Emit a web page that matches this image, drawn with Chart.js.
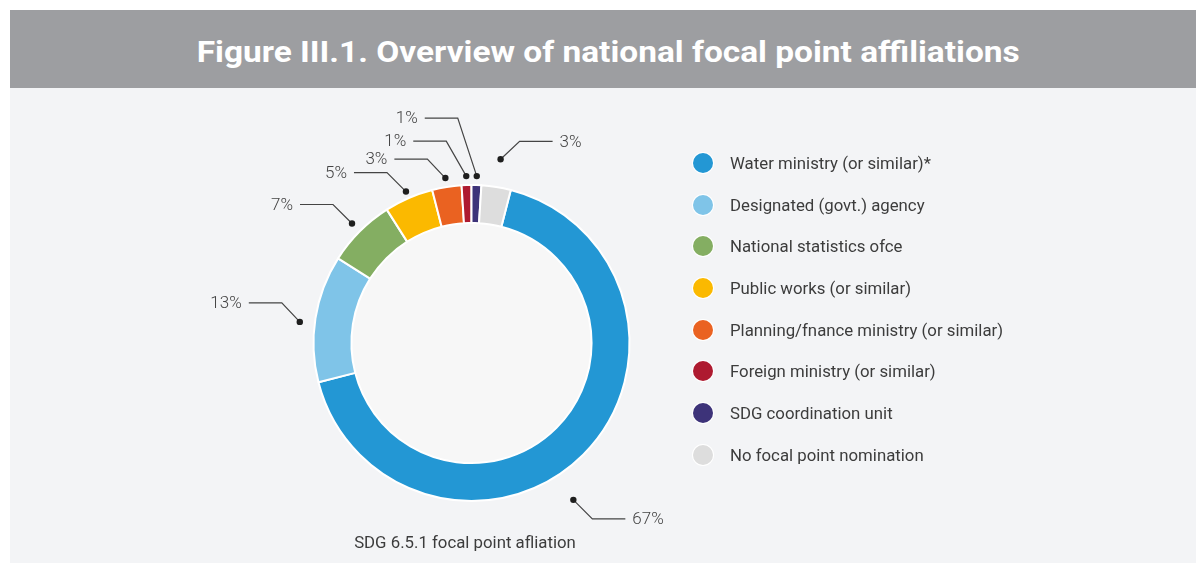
<!DOCTYPE html>
<html>
<head>
<meta charset="utf-8">
<script src="https://cdn.jsdelivr.net/npm/chart.js@4.4.1/dist/chart.umd.min.js"></script>
<style>
  html, body { margin: 0; padding: 0; background: #ffffff; }
  body { width: 1196px; height: 563px; position: relative; overflow: hidden; font-family: Roboto, "Noto Sans", sans-serif; }
  #band { position: absolute; left: 10px; top: 10px; width: 1186px; height: 78px; background: #9d9ea1; }
  #title { position: absolute; left: 0; top: 34px; width: 1216px; text-align: center; color: #fff;
           font-weight: 700; font-size: 30px; white-space: nowrap; }
  #title span { display: inline-block; transform-origin: center; }
  #panel { position: absolute; left: 10px; top: 88px; width: 1186px; height: 475px; background: #f3f4f6; }
  #chart { position: absolute; left: 0; top: 0; }
  #legend { position: absolute; left: 682px; top: 54px; margin: 0; padding: 0; list-style: none; }
  #legend li { height: 41.7px; display: flex; align-items: center; color: #3c3c3c; font-size: 16.8px; font-weight: 400; }
  #legend i { width: 20px; height: 20px; border-radius: 50%; margin-left: 1px; margin-right: 17px; box-shadow: 0 0 0 1px #fff; }
  #caption { position: absolute; left: 305px; width: 300px; top: 444px; text-align: center; color: #3c3c3c; font-size: 16.8px; white-space: nowrap; }
</style>
</head>
<body>
<div id="band"></div>
<div id="title"><span>Figure III.1. Overview of national focal point affiliations</span></div>
<div id="panel">
  <canvas id="chart" width="1186" height="475"></canvas>
  <ul id="legend"></ul>
  <div id="caption">SDG 6.5.1 focal point afliation</div>
</div>
<script>
const categories = [
    'Water ministry (or similar)*',
    'Designated (govt.) agency',
    'National statistics ofce',
    'Public works (or similar)',
    'Planning/fnance ministry (or similar)',
    'Foreign ministry (or similar)',
    'SDG coordination unit',
    'No focal point nomination'
];
const shares = [67, 13, 7, 5, 3, 1, 1, 3];
const colors = ['#2397d4', '#7fc4e8', '#84ae62', '#fbb900', '#ea6221', '#ae1a30', '#3d3379', '#dddddd'];

// leader line layout per slice: angle shift (deg), gap from ring, elbow offset
const callouts = [
    { shift: 12, gap: 29, dx: 19, dy: 19 },
    { shift: -2, gap: 15, dx: -18, dy: -19 },
    { shift: 0, gap: 11, dx: -19, dy: -19 },
    { shift: 0, gap: 7, dx: -19, dy: -19 },
    { shift: 0, gap: 9, dx: -18, dy: -19 },
    { shift: 0, gap: 9, dx: -20, dy: -35 },
    { shift: 0, gap: 9, dx: -19, dy: -58 },
    { shift: 0, gap: 28, dx: 19, dy: -18 }
];

// fit the title to the width of the condensed original
(function () {
    const span = document.querySelector('#title span');
    const w = span.getBoundingClientRect().width;
    span.style.transform = `scaleX(${823 / w})`;
})();

// legend
const legend = document.getElementById('legend');
categories.forEach((name, i) => {
    const li = document.createElement('li');
    li.innerHTML = `<i style="background:${colors[i]}"></i>${name}`;
    legend.appendChild(li);
});

const innerFill = {
    id: 'innerFill',
    beforeDatasetsDraw(chart) {
        const arc = chart.getDatasetMeta(0).data[0];
        if (!arc) return;
        const { x, y, innerRadius } = arc.getProps(['x', 'y', 'innerRadius'], true);
        const ctx = chart.ctx;
        ctx.save();
        ctx.fillStyle = '#f7f7f7';
        ctx.beginPath();
        ctx.arc(x, y, innerRadius, 0, Math.PI * 2);
        ctx.fill();
        ctx.restore();
    }
};

const calloutLabels = {
    id: 'calloutLabels',
    afterDatasetsDraw(chart) {
        const ctx = chart.ctx;
        const meta = chart.getDatasetMeta(0);
        ctx.save();
        ctx.font = '300 17px Roboto';
        ctx.textBaseline = 'middle';
        meta.data.forEach((arc, i) => {
            const p = arc.getProps(['x', 'y', 'startAngle', 'endAngle', 'outerRadius'], true);
            const c = callouts[i];
            const mid = (p.startAngle + p.endAngle) / 2 + c.shift * Math.PI / 180;
            const r = p.outerRadius + c.gap;
            const dx0 = p.x + Math.cos(mid) * r;
            const dy0 = p.y + Math.sin(mid) * r;
            const ex = dx0 + c.dx;
            const ey = dy0 + c.dy;
            const side = c.dx > 0 ? 1 : -1;
            const hx = ex + side * 33;

            ctx.strokeStyle = '#444';
            ctx.lineWidth = 1.2;
            ctx.beginPath();
            ctx.moveTo(dx0, dy0);
            ctx.lineTo(ex, ey);
            ctx.lineTo(hx, ey);
            ctx.stroke();

            ctx.fillStyle = '#1e1e1e';
            ctx.beginPath();
            ctx.arc(dx0, dy0, 3.2, 0, Math.PI * 2);
            ctx.fill();

            ctx.fillStyle = '#444';
            ctx.textAlign = side > 0 ? 'left' : 'right';
            ctx.fillText(`${shares[i]}%`, hx + side * 7, ey + 1);
        });
        ctx.restore();
    }
};

new Chart(document.getElementById('chart'), {
    type: 'doughnut',
    data: {
        labels: categories,
        datasets: [{
            data: shares,
            backgroundColor: colors,
            borderColor: '#ffffff',
            borderWidth: 2
        }]
    },
    options: {
        responsive: false,
        animation: false,
        rotation: 14.4,
        cutout: '76%',
        layout: { padding: { left: 302, right: 565, top: 96, bottom: 61 } },
        plugins: {
            legend: { display: false },
            tooltip: { enabled: false }
        }
    },
    plugins: [innerFill, calloutLabels]
});
</script>
</body>
</html>
